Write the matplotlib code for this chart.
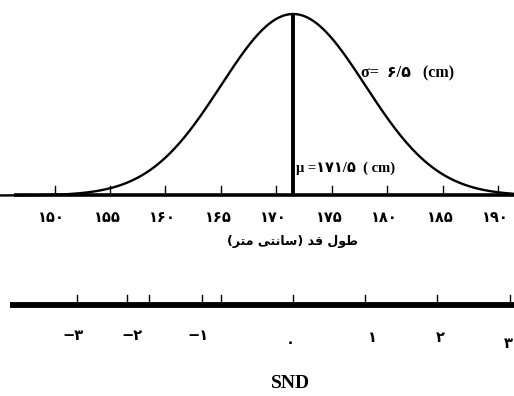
import numpy as np
import matplotlib
matplotlib.use("Agg")
import matplotlib.pyplot as plt

# Height distribution (cm)
mu = 171.5
sigma = 6.5

cm_ticks = [150, 155, 160, 165, 170, 175, 180, 185, 190]
cm_labels = ["۱۵۰", "۱۵۵", "۱۶۰", "۱۶۵", "۱۷۰", "۱۷۵", "۱۸۰", "۱۸۵", "۱۹۰"]

z_ticks = [-3, -2, -1, 0, 1, 2, 3]
z_labels = ["−۳", "−۲", "−۱", "۰", "۱", "۲", "۳"]
z_extra_ticks = [-2.3, -1.27]

# "طول قد (سانتی متر)" in presentation forms, laid out right-to-left
xlabel_text = ("(\uFEAE\uFE98\uFEE3 \uFEF0\uFE98\uFEE7\uFE8E\uFEB3) "
               "\uFEAA\uFED7 \uFEDD\uFEEE\uFEC3")
mu_text = "μ =۱۷۱/۵  ( cm)"
sigma_text = "σ=  ۶/۵   (cm)"

W, H = 514, 396
fig = plt.figure(figsize=(W / 100, H / 100), dpi=100)
ax = fig.add_axes([0, 0, 1, 1])
ax.set_axis_off()

# scales: 11.1 px per cm, 170 cm at x=276.5 px
px_per_cm = 11.1
x0 = 170 - 276.5 / px_per_cm
x1 = 170 + (W - 276.5) / px_per_cm
peak = 1 / (sigma * np.sqrt(2 * np.pi))
base_px = 195.5
k = (base_px - 14) / peak
ax.set_xlim(x0, x1)
ax.set_ylim(-(H - base_px) / k, base_px / k)


def ypx(p):
    return (base_px - p) / k


def xpx(p):
    return x0 + p / px_per_cm


# normal curve
xs = np.linspace(mu - 4.2 * sigma, mu + 4.2 * sigma, 600)
pdf = np.exp(-0.5 * ((xs - mu) / sigma) ** 2) / (sigma * np.sqrt(2 * np.pi))
ax.plot(xs, pdf, color="black", lw=1.7, solid_capstyle="round")

# baseline of the cm axis
ax.plot([xpx(14), x1], [0, 0], color="black", lw=2.6, solid_capstyle="butt")
for t, lab in zip(cm_ticks, cm_labels):
    ax.plot([t, t], [0, ypx(186)], color="black", lw=1.0)
    ax.text(t - 0.25, ypx(218), lab, ha="center", va="center", fontsize=10.5,
            fontweight="bold", family="DejaVu Sans")

# mean line
ax.plot([mu, mu], [0, peak], color="black", lw=2.8, solid_capstyle="butt")

ax.text(xpx(296), ypx(168), mu_text, ha="left", va="center", fontsize=10.5,
        fontweight="bold", family=["Liberation Serif", "DejaVu Sans"])
ax.text(xpx(361), ypx(73), sigma_text, ha="left", va="center", fontsize=11.5,
        fontweight="bold", family=["Liberation Serif", "DejaVu Sans"])

ax.text(xpx(292), ypx(242), xlabel_text, ha="center", va="center",
        fontsize=9, fontweight="bold", family="DejaVu Sans")

# standard normal axis
snd_y = ypx(305.5)
ax.plot([xpx(10), x1], [snd_y, snd_y], color="black", lw=4.2,
        solid_capstyle="butt")
for z in list(z_ticks) + z_extra_ticks:
    xz = mu + z * sigma
    ax.plot([xz, xz], [snd_y, ypx(295)], color="black", lw=1.0)

# label placement under the SND axis (x, y in px)
z_label_pos = [(73, 335), (132, 335), (198, 335), (290, 343),
               (372, 337), (440, 337), (508, 343)]
for (lx, ly), lab in zip(z_label_pos, z_labels):
    ax.text(xpx(lx), ypx(ly), lab, ha="center", va="center",
            fontsize=10.5, fontweight="bold", family="DejaVu Sans")

ax.text(xpx(290), ypx(383), "SND", ha="center", va="center", fontsize=14,
        fontweight="bold", family="Liberation Serif")

fig.savefig("out.png", dpi=100)
